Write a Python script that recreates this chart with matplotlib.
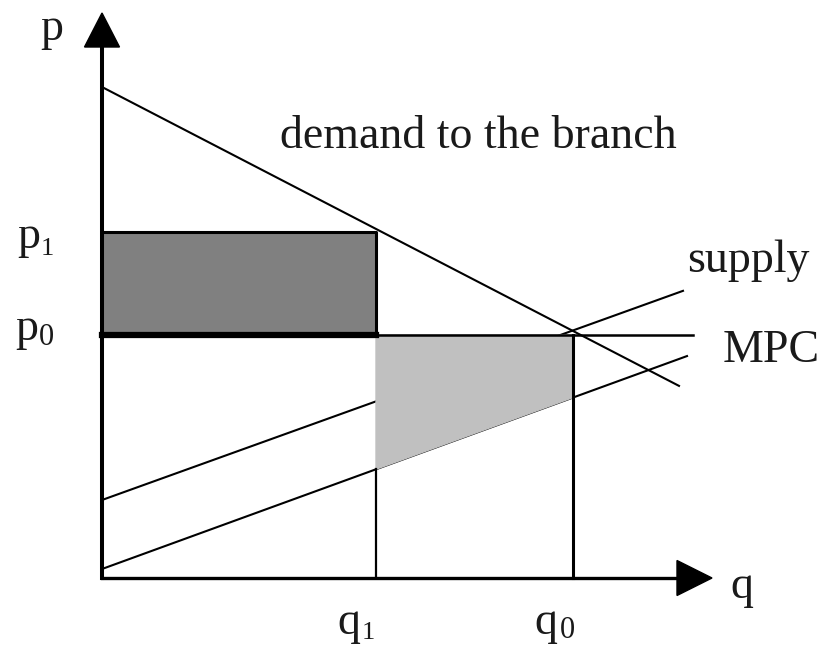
import matplotlib.pyplot as plt
import numpy as np

plt.rcParams['font.family'] = ['Liberation Serif', 'DejaVu Serif']

# economic values (abstract units)
demandIntercept = 49.1
demandSlope = -0.518
supplyIntercept = 7.8
supplySlope = 0.360
mpcIntercept = 0.9
mpcSlope = 0.364
p0 = 24.3
p1 = 34.6
q0 = 47.1
q1 = 27.4
demandEnd = 57.7
supplyEnd = 58.1
mpcEnd = 58.5
p0End = 59.1
axisTopP = 56.5
axisEndQ = 61.0

textColour = '#1a1a1a'

figure = plt.figure(figsize=(8.26, 6.49), dpi=100)
axis = figure.add_axes([0, 0, 1, 1])
axis.set_xlim(-10.2, 72.4)
axis.set_ylim(-7.1, 57.8)
axis.axis('off')

# demand, supply and private cost lines
qDemand = np.array([0, demandEnd])
axis.plot(qDemand, demandIntercept + demandSlope * qDemand, color='black', lw=1.5)
qSupply = np.array([0, supplyEnd])
axis.plot(qSupply, supplyIntercept + supplySlope * qSupply, color='black', lw=1.5)
qMpc = np.array([0, mpcEnd])
axis.plot(qMpc, mpcIntercept + mpcSlope * qMpc, color='black', lw=1.5)

# dark rectangle between p0 and p1
axis.fill([0, q1, q1, 0], [p0, p0, p1, p1], color='#808080', zorder=2)
axis.plot([0, q1, q1], [p1, p1, p0], color='black', lw=2.2, zorder=3)
axis.plot([0, q1], [p0, p0], color='black', lw=4.5, zorder=3)

# light grey area between p0 and MPC
axis.fill([q1, q0, q0, q1], [p0, p0, mpcIntercept + mpcSlope * q0, mpcIntercept + mpcSlope * q1],
          color='#c0c0c0', zorder=2)
axis.plot([q1, p0End], [p0, p0], color='black', lw=1.8, zorder=3)

# vertical lines at q1 and q0
axis.plot([q1, q1], [0, mpcIntercept + mpcSlope * q1], color='black', lw=1.6, zorder=3)
axis.plot([q0, q0], [0, p0], color='black', lw=2.2, zorder=3)

# axes with arrow heads
axis.plot([0, 0], [0, axisTopP - 3.0], color='black', lw=2.9, zorder=4)
axis.plot([0, axisEndQ - 3.0], [0, 0], color='black', lw=2.4, zorder=4)
axis.fill([-1.75, 1.75, 0], [axisTopP - 3.4, axisTopP - 3.4, axisTopP], color='black', zorder=4)
axis.fill([axisEndQ - 3.5, axisEndQ - 3.5, axisEndQ], [-1.75, 1.75, 0], color='black', zorder=4)

# labels
fs = 33
axis.text(-5.0, 53.8, 'p', fontsize=fs, ha='center', va='baseline', color=textColour)
axis.text(64.0, -2.0, 'q', fontsize=fs, ha='center', va='baseline', color=textColour)

# labels with subscripts: letter, then a smaller digit
axis.text(-8.5, 33.0, 'p', fontsize=fs, ha='left', va='baseline', color=textColour)
axis.text(-6.1, 32.3, '1', fontsize=19, ha='left', va='baseline', color=textColour)
axis.text(-8.7, 23.8, 'p', fontsize=fs, ha='left', va='baseline', color=textColour)
axis.text(-6.3, 23.3, '0', fontsize=22, ha='left', va='baseline', color=textColour)
axis.text(23.5, -5.6, 'q', fontsize=fs, ha='left', va='baseline', color=textColour)
axis.text(26.0, -6.1, '1', fontsize=19, ha='left', va='baseline', color=textColour)
axis.text(43.2, -5.6, 'q', fontsize=fs, ha='left', va='baseline', color=textColour)
axis.text(45.8, -6.0, '0', fontsize=22, ha='left', va='baseline', color=textColour)

axis.text(17.8, 43.0, 'demand to the branch', fontsize=fs, ha='left', va='baseline', color=textColour)
axis.text(58.5, 30.6, 'supply', fontsize=fs, ha='left', va='baseline', color=textColour)
axis.text(62.1, 21.6, 'MPC', fontsize=fs, ha='left', va='baseline', color=textColour)

figure.savefig('out.png', dpi=100)
